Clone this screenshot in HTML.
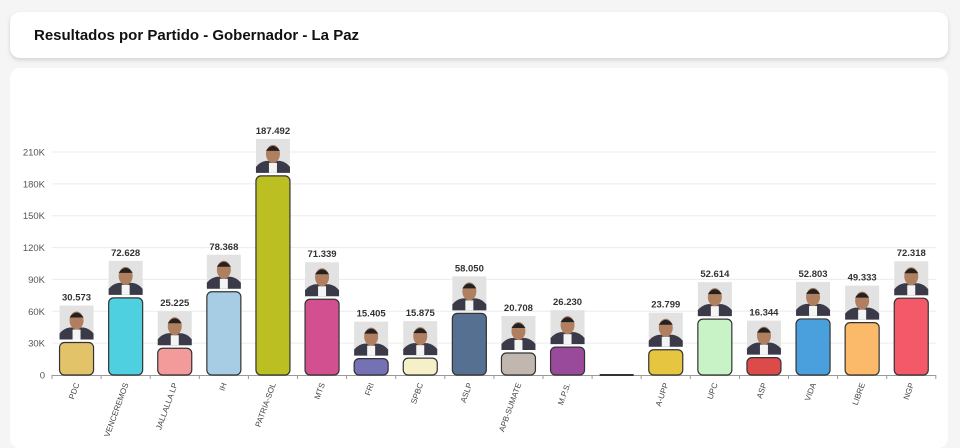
<!DOCTYPE html>
<html><head><meta charset="utf-8"><style>
body{margin:0;width:960px;height:436px;background:#f5f5f5;overflow:hidden;font-family:"Liberation Sans",sans-serif}
.h{position:absolute;left:10px;top:12px;width:938px;height:46px;background:#fff;border-radius:10px;box-shadow:0 2px 4px rgba(0,0,0,.15)}
.h span{position:absolute;left:24px;top:15px;font-weight:bold;font-size:15px;color:#111}
.c{position:absolute;left:10px;top:68px;width:938px;height:380px;background:#fff;border-radius:10px}
svg{position:absolute;left:0;top:0}
</style></head><body>
<div class="h"><span>Resultados por Partido - Gobernador - La Paz</span></div>
<div class="c"></div>
<svg width="960" height="436" id="s" font-family="Liberation Sans, sans-serif"></svg>
<script>
var d=[["PDC",30573,"#e3c36a"],["VENCEREMOS",72628,"#4fd0e0"],["JALLALLA LP",25225,"#f39a9a"],["IH",78368,"#a6cde3"],["PATRIA-SOL",187492,"#bcbf22"],["MTS",71339,"#d2508f"],["FRI",15405,"#7472b4"],["SPBC",15875,"#f6f0c8"],["ASLP",58050,"#557090"],["APB-SUMATE",20708,"#c2b7ae"],["M.P.S.",26230,"#9a4a9a"],["",0,"#333"],["A-UPP",23799,"#e6c540"],["UPC",52614,"#c7f3c7"],["ASP",16344,"#dc4a4a"],["VIDA",52803,"#4aa0dc"],["LIBRE",49333,"#fbb96a"],["NGP",72318,"#f4596a"]];
var s="",y0=375,k=223/210000,x0=52,w=49.1;
for(var i=0;i<=7;i++){var y=y0-i*30000*k;if(i>0)s+='<line x1="52" x2="936" y1="'+y+'" y2="'+y+'" stroke="#ececec"/>';s+='<text x="45" y="'+(y+3.5)+'" font-size="9.5" fill="#555" text-anchor="end">'+(i?i*30+'K':'0')+'</text>';}
s+='<line x1="52" x2="936" y1="375.5" y2="375.5" stroke="#999"/>';
for(i=0;i<=18;i++)s+='<line x1="'+(x0+i*w)+'" x2="'+(x0+i*w)+'" y1="375" y2="379" stroke="#999"/>';
d.forEach(function(e,i){var cx=x0+w*(i+.5),h=e[1]*k,t=y0-h;
if(!e[1]){s+='<rect x="'+(cx-17)+'" y="374" width="34" height="2" fill="#333"/>';return;}
s+='<rect x="'+(cx-17)+'" y="'+t+'" width="34" height="'+h+'" rx="5" fill="'+e[2]+'" stroke="#333" stroke-width="1.2"/>';
var py=t-37;s+='<rect x="'+(cx-17)+'" y="'+py+'" width="34" height="34" fill="#e2e2e2"/><path d="M'+(cx-17)+' '+(py+34)+'v-6q4-5 10-6h14q6 1 10 6v6z" fill="#3a3a48"/><rect x="'+(cx-4)+'" y="'+(py+24)+'" width="8" height="10" fill="#f4f4f4"/><ellipse cx="'+cx+'" cy="'+(py+15)+'" rx="7" ry="9" fill="#b07f5f"/><path d="M'+(cx-7)+' '+(py+12)+'q7 -10 14 0" fill="#222"/>';
s+='<text x="'+cx+'" y="'+(py-5)+'" font-size="9.5" font-weight="bold" fill="#333" text-anchor="middle">'+e[1].toLocaleString("de-DE").replace(",",".")+'</text>';});
d.forEach(function(e,i){var cx=x0+w*(i+.5)+3;s+='<text transform="translate('+cx+',384) rotate(-70)" font-size="8" fill="#444" text-anchor="end">'+e[0]+'</text>';});
document.getElementById("s").innerHTML=s;
</script>
</body></html>
